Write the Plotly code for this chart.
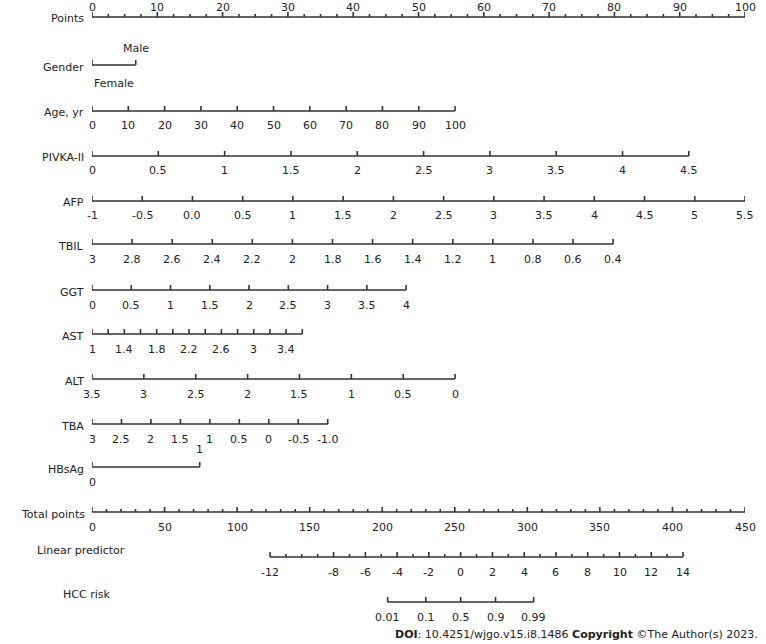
import numpy as np
import plotly.graph_objects as go

# scale values: each row maps its tick values linearly onto the 0-100 points scale
points_ticks = list(range(0, 101, 10))
gender_labels = ["Female", "Male"]
gender_pts = [0, 6.7]
age_ticks = list(range(0, 101, 10))
age_end_pts = 55.6
pivka_ticks = [0, 0.5, 1, 1.5, 2, 2.5, 3, 3.5, 4, 4.5]
pivka_end_pts = 91.4
afp_ticks = [-1, -0.5, 0.0, 0.5, 1, 1.5, 2, 2.5, 3, 3.5, 4, 4.5, 5, 5.5]
afp_text = ["-1", "-0.5", "0.0", "0.5", "1", "1.5", "2", "2.5", "3", "3.5", "4", "4.5", "5", "5.5"]
tbil_ticks = [3, 2.8, 2.6, 2.4, 2.2, 2, 1.8, 1.6, 1.4, 1.2, 1, 0.8, 0.6, 0.4]
tbil_end_pts = 79.8
ggt_ticks = [0, 0.5, 1, 1.5, 2, 2.5, 3, 3.5, 4]
ggt_end_pts = 48.1
ast_ticks = [1, 1.4, 1.8, 2.2, 2.6, 3, 3.4]
ast_max = 3.6
ast_end_pts = 32.2
alt_ticks = [3.5, 3, 2.5, 2, 1.5, 1, 0.5, 0]
alt_end_pts = 55.6
tba_ticks = [3, 2.5, 2, 1.5, 1, 0.5, 0, -0.5, -1.0]
tba_text = ["3", "2.5", "2", "1.5", "1", "0.5", "0", "-0.5", "-1.0"]
tba_end_pts = 36.1
hbsag_pts = [0, 16.5]
total_ticks = list(range(0, 451, 50))
total_max = 450
lp_ticks = [-12, -8, -6, -4, -2, 0, 2, 4, 6, 8, 10, 12, 14]
lp_range = [-12, 14]
lp_total = [122.7, 407.3]
risk_ticks = [0.01, 0.1, 0.5, 0.9, 0.99]

INK = "#333333"
FONT = "DejaVu Sans"
Y_TOP, Y_BOT = 0, 644
fig = go.Figure()
ann = []


def txt(x, y, text, anchor="center", xref="x"):
    ann.append(dict(x=x, y=(Y_BOT - y) / (Y_BOT - Y_TOP), xref=xref, yref="paper", text=text,
                    xanchor=anchor, yanchor="middle", showarrow=False,
                    font=dict(size=11, color="#222", family=FONT)))


def lin(v, v0, v1, p1, p0=0.0):
    return p0 + (np.asarray(v, float) - v0) / (v1 - v0) * (p1 - p0)


def axis_row(name, y, major, minor=(), labels=None, label_pos=None, above=False,
             name_dy=2, name_px=86):
    major = list(major)
    xs = [min(major + list(minor)), max(major + list(minor))]
    tx, ty = [], []
    for p in major:
        tx += [p, p, None]
        ty += [y, y - 5, None]
    for p in minor:
        tx += [p, p, None]
        ty += [y, y - 3, None]
    fig.add_trace(go.Scatter(x=xs, y=[y, y], mode="lines", line=dict(color=INK, width=1.6),
                             hoverinfo="skip", showlegend=False))
    fig.add_trace(go.Scatter(x=tx, y=ty, mode="lines", line=dict(color=INK, width=1.6),
                             hoverinfo="skip", showlegend=False))
    txt((name_px - 92) / 653, y + name_dy, name, "right", "paper")
    if labels is not None:
        pos = label_pos if label_pos is not None else major
        for p, t in zip(pos, labels):
            txt(p, y - 10 if above else y + 15, t)


# Points
pts_minor = [v for v in np.arange(0, 100.1, 2.5) if v % 10]
axis_row("Points", 17, points_ticks, pts_minor, [str(v) for v in points_ticks], above=True)

# Gender
axis_row("Gender", 65, gender_pts)
txt(gender_pts[1], 48, gender_labels[1])
txt(gender_pts[0], 83, gender_labels[0], "left")

p = lin(age_ticks, 0, 100, age_end_pts)
axis_row("Age, yr", 111, p, labels=[str(v) for v in age_ticks])

p = lin(pivka_ticks, 0, 4.5, pivka_end_pts)
axis_row("PIVKA-II", 156, p, labels=[str(v) for v in pivka_ticks])

p = lin(afp_ticks, -1, 5.5, 100)
axis_row("AFP", 201, p, labels=afp_text)

p = lin(tbil_ticks, 3, 0.4, tbil_end_pts)
axis_row("TBIL", 244, p, labels=[str(v) for v in tbil_ticks])

p = lin(ggt_ticks, 0, 4, ggt_end_pts)
axis_row("GGT", 290, p, labels=[str(v) for v in ggt_ticks])

p = lin(ast_ticks, 1, ast_max, ast_end_pts)
mn = lin(np.arange(1.2, ast_max + 0.01, 0.4), 1, ast_max, ast_end_pts)
axis_row("AST", 334, list(p) + list(mn), labels=[str(v) for v in ast_ticks], label_pos=p)

p = lin(alt_ticks, 3.5, 0, alt_end_pts)
axis_row("ALT", 379, p, labels=[str(v) for v in alt_ticks])

p = lin(tba_ticks, 3, -1, tba_end_pts)
axis_row("TBA", 424, p, labels=tba_text)

axis_row("HBsAg", 467, hbsag_pts)
txt(hbsag_pts[1], 450, "1")
txt(hbsag_pts[0], 482, "0")

p = lin(total_ticks, 0, total_max, 100)
mn = lin([v for v in range(0, 451, 10) if v % 50], 0, total_max, 100)
axis_row("Total points", 512, p, mn, [str(v) for v in total_ticks], name_dy=2, name_px=87)

# linear predictor, on the total-points scale
lp_p = lambda v: lin(lin(v, lp_range[0], lp_range[1], lp_total[1], lp_total[0]), 0, total_max, 100)
mn = lp_p([v for v in range(-11, 14) if v not in lp_ticks])
axis_row("Linear predictor", 557, lp_p(lp_ticks), mn, [str(v) for v in lp_ticks],
         name_dy=-7, name_px=127)

risk = np.array(risk_ticks)
rp = lp_p(np.log(risk / (1 - risk)))
axis_row("HCC risk", 602, rp, labels=[str(v) for v in risk_ticks], name_dy=-8, name_px=112)

txt((760 - 92) / 653, 634,
    "<b>DOI</b>: 10.4251/wjgo.v15.i8.1486 <b>Copyright</b> ©The Author(s) 2023.",
    "right", "paper")

fig.update_layout(
    width=766, height=644, autosize=False,
    margin=dict(l=92, r=21, t=0, b=0),
    paper_bgcolor="white", plot_bgcolor="white",
    xaxis=dict(range=[0, 100], visible=False),
    yaxis=dict(range=[Y_BOT, Y_TOP], visible=False),
    annotations=ann,
    showlegend=False,
)
# drop the default body margin so the 766x644 figure fills the window
fig.write_html("out.html", config={"displayModeBar": False},
               post_script="document.body.style.margin='0';document.body.style.overflow='hidden';")
